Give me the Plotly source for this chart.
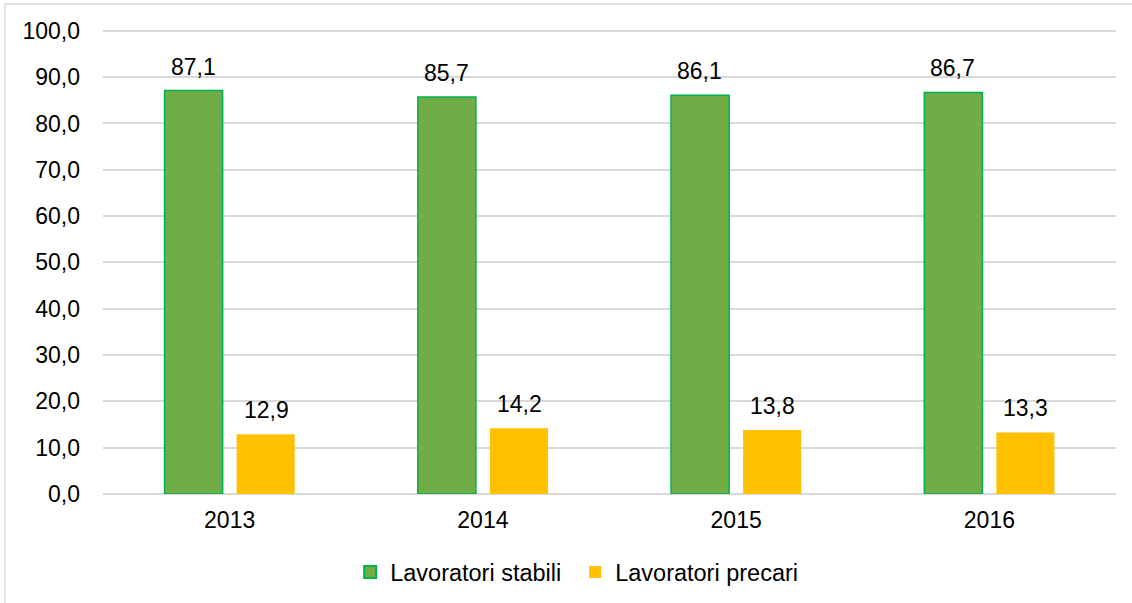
import plotly.graph_objects as go

years = ['2013', '2014', '2015', '2016']
stabili = [87.1, 85.7, 86.1, 86.7]
precari = [12.9, 14.2, 13.8, 13.3]
y_ticks = [0, 10, 20, 30, 40, 50, 60, 70, 80, 90, 100]


def it_num(v):
    return f'{v:.1f}'.replace('.', ',')


FONT = 'Liberation Sans, Arial, sans-serif'
GREEN = '#70AD47'
GREEN_LINE = '#00B050'
YELLOW = '#FFC000'
GRID = '#D9D9D9'

fig = go.Figure()
fig.add_trace(go.Bar(
    x=years, y=stabili, name='Lavoratori stabili',
    marker=dict(color=GREEN, line=dict(color=GREEN_LINE, width=1.5)),
))
fig.add_trace(go.Bar(
    x=years, y=precari, name='Lavoratori precari',
    marker=dict(color=YELLOW, line=dict(color=YELLOW, width=0)),
))

# value labels above bars (comma decimal); x given as category index
for vals, shift in ((stabili, -36.5), (precari, 36.5)):
    for i, v in enumerate(vals):
        fig.add_annotation(
            x=i, y=v, text=it_num(v),
            showarrow=False, yanchor='bottom', xshift=shift, yshift=9,
            font=dict(family=FONT, size=23, color='#000000'),
        )

# outer chart frame (partly cut off, like the source screenshot)
fig.add_shape(type='rect', xref='paper', yref='paper',
              x0=-0.0967, x1=1.03, y0=-0.26, y1=1.054,
              line=dict(color=GRID, width=1.5), layer='below')

fig.update_layout(
    width=1132, height=603,
    margin=dict(l=103, r=16, t=29, b=109, autoexpand=False),
    paper_bgcolor='white', plot_bgcolor='white',
    font=dict(family=FONT, size=23, color='#000000'),
    barmode='group', bargap=0.431, bargroupgap=0.194,
    showlegend=True,
    legend=dict(orientation='h', x=0.244, xanchor='left', y=-0.168, yanchor='middle',
                font=dict(family=FONT, size=23.5), itemsizing='constant',
                entrywidth=180, entrywidthmode='pixels',
                traceorder='normal'),
    xaxis=dict(type='category', range=[-0.5, len(years) - 0.5],
               showgrid=False, showline=False, ticks='', ticklabelstandoff=10,
               tickfont=dict(family=FONT, size=23)),
    # a little headroom so the 100 gridline is not clipped at the edge
    yaxis=dict(range=[0, 100.4], tickvals=y_ticks, ticktext=[it_num(t) for t in y_ticks],
               showgrid=True, gridcolor=GRID, gridwidth=1.5,
               zeroline=True, zerolinecolor=GRID, zerolinewidth=1.5,
               showline=False, ticks='', ticklabelstandoff=22,
               tickfont=dict(family=FONT, size=23)),
)

fig.write_html("out.html", config={'displayModeBar': False},
               post_script="document.body.style.margin = '0';")
